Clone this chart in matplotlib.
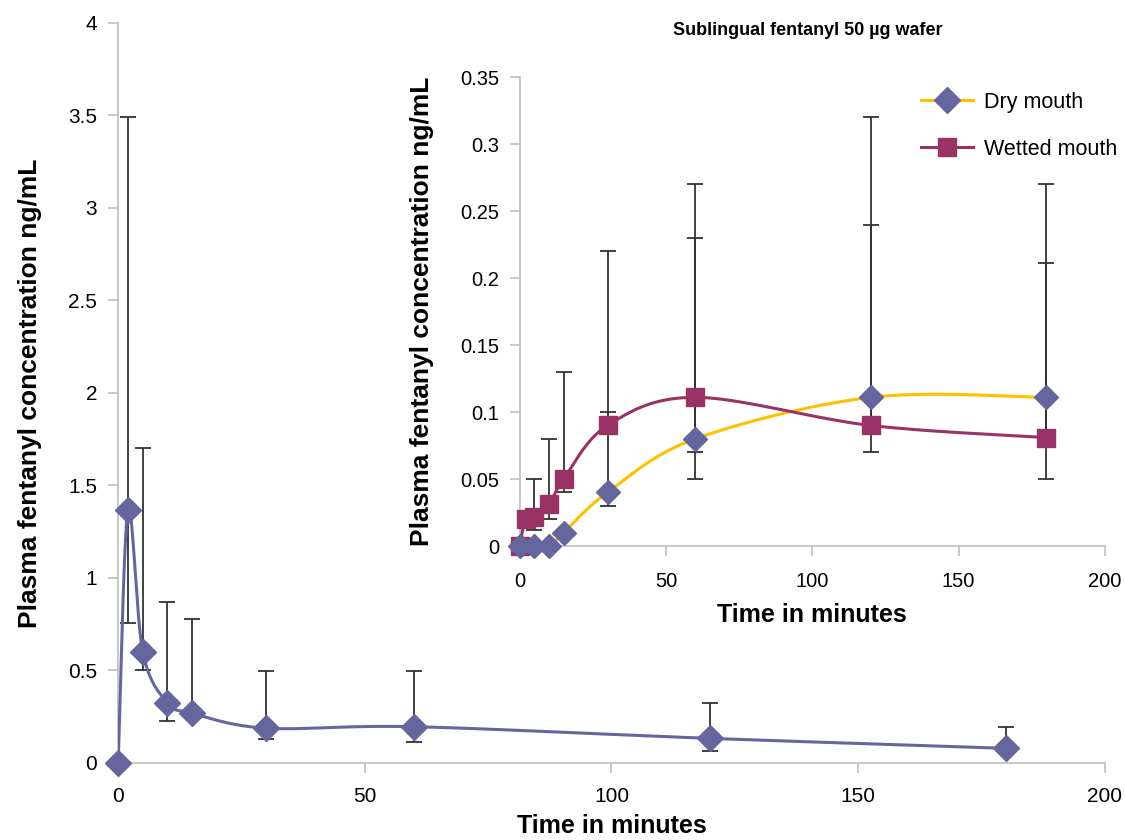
"""
Plasma fentanyl concentration after sublingual wafer, with inset for 50 ug dose.
"""

import numpy as np
import matplotlib
matplotlib.use("Agg")
import matplotlib.pyplot as plt
from matplotlib.ticker import FuncFormatter

plt.rcParams['font.family'] = ['Liberation Sans', 'DejaVu Sans']

# main chart data
main_time = [0, 2, 5, 10, 15, 30, 60, 120, 180]
main_conc = [0, 1.37, 0.60, 0.326, 0.269, 0.188, 0.196, 0.133, 0.079]
main_upper = [0, 3.49, 1.70, 0.872, 0.777, 0.495, 0.495, 0.322, 0.195]
main_lower = [0, 0.755, 0.503, 0.229, 0.25, 0.128, 0.112, 0.067, 0.079]

# inset data - dry mouth
dry_time = [0, 5, 10, 15, 30, 60, 120, 180]
dry_conc = [0, 0, 0, 0.01, 0.04, 0.08, 0.111, 0.111]
dry_upper = [0, 0, 0, 0.01, 0.10, 0.23, 0.32, 0.27]
dry_lower = [0, 0, 0, 0.01, 0.03, 0.05, 0.07, 0.05]

# inset data - wetted mouth
wet_time = [0, 2, 5, 10, 15, 30, 60, 120, 180]
wet_conc = [0, 0.02, 0.022, 0.031, 0.05, 0.09, 0.111, 0.09, 0.081]
wet_upper = [0, 0.02, 0.05, 0.08, 0.13, 0.22, 0.27, 0.24, 0.211]
wet_lower = [0, 0.02, 0.012, 0.02, 0.04, 0.09, 0.07, 0.09, 0.081]

BLUE = '#66669E'
GOLD = '#FFC000'
MAROON = '#993366'
GREY = '#BFBFBF'
ERR = '#333333'


def smooth(x, y, sx, sy, n=40):
    # Excel-like smoothed line (bezier through the points), done in pixel space
    P = np.column_stack([np.asarray(x, float) * sx, np.asarray(y, float) * sy])
    out = []
    t = np.linspace(0, 1, n)[:, None]
    for i in range(len(P) - 1):
        p0 = P[max(i - 1, 0)]
        p1 = P[i]
        p2 = P[i + 1]
        p3 = P[min(i + 2, len(P) - 1)]
        c1 = p1 + (p2 - p0) / 6
        c2 = p2 - (p3 - p1) / 6
        seg = (1 - t)**3 * p1 + 3 * (1 - t)**2 * t * c1 + 3 * (1 - t) * t**2 * c2 + t**3 * p2
        out.append(seg)
    out = np.vstack(out)
    return out[:, 0] / sx, out[:, 1] / sy


def style_axes(ax, size):
    for s in ['top', 'right']:
        ax.spines[s].set_visible(False)
    for s in ['left', 'bottom']:
        ax.spines[s].set_color(GREY)
        ax.spines[s].set_linewidth(1.2)
    ax.tick_params(colors=GREY, labelcolor='black', width=1.2, length=7, labelsize=size)
    ax.yaxis.set_major_formatter(FuncFormatter(lambda v, p: '%g' % round(v, 3)))


def yerr(vals, lower, upper):
    lo = [max(v - l, 0) for v, l in zip(vals, lower)]
    hi = [max(u - v, 0) for v, u in zip(vals, upper)]
    return [lo, hi]


fig = plt.figure(figsize=(11.25, 8.4), dpi=100)

# main axes
ax = fig.add_axes([0.105, 0.0917, 0.877, 0.881])
style_axes(ax, 15)
ax.set_xlim(0, 200)
ax.set_ylim(0, 4)
ax.set_xticks([0, 50, 100, 150, 200])
ax.set_yticks(np.arange(0, 4.01, 0.5))
ax.tick_params(axis='y', pad=8)
ax.tick_params(axis='x', pad=10)

ax.errorbar(main_time, main_conc, yerr=yerr(main_conc, main_lower, main_upper),
            fmt='none', ecolor=ERR, elinewidth=1.3, capsize=6, capthick=1.3, zorder=2)
sx, sy = smooth(main_time, main_conc, 987 / 200, 740 / 4)
ax.plot(sx, sy, color=BLUE, lw=2.2, zorder=3)
ax.plot(main_time, main_conc, 'D', color=BLUE, markersize=13, zorder=4, clip_on=False)
ax.set_xlabel('Time in minutes', fontsize=18, fontweight='bold', va='center')
ax.xaxis.set_label_coords(0.5, -0.085)
ax.set_ylabel('Plasma fentanyl concentration ng/mL', fontsize=19, fontweight='bold', va='center')
ax.yaxis.set_label_coords(-0.089, 0.5)

# inset axes
ins = fig.add_axes([0.462, 0.35, 0.52, 0.558])
style_axes(ins, 14.5)
ins.patch.set_alpha(0)
ins.set_xlim(0, 200)
ins.set_ylim(0, 0.35)
ins.set_xticks([0, 50, 100, 150, 200])
ins.set_yticks(np.arange(0, 0.351, 0.05))
ins.tick_params(axis='y', pad=8)
ins.tick_params(axis='x', pad=12)

ins.errorbar(dry_time, dry_conc, yerr=yerr(dry_conc, dry_lower, dry_upper),
             fmt='none', ecolor=ERR, elinewidth=1.3, capsize=6, capthick=1.3, zorder=2)
ins.errorbar(wet_time, wet_conc, yerr=yerr(wet_conc, wet_lower, wet_upper),
             fmt='none', ecolor=ERR, elinewidth=1.3, capsize=6, capthick=1.3, zorder=2)

dx, dy = smooth(dry_time, dry_conc, 585 / 200, 469 / 0.35)
wx, wy = smooth(wet_time, wet_conc, 585 / 200, 469 / 0.35)
ins.plot(dx, dy, color=GOLD, lw=2.2, zorder=3)
ins.plot(wx, wy, color=MAROON, lw=2.2, zorder=3)
ins.plot(wet_time, wet_conc, 's', color=MAROON, markersize=13, zorder=4, clip_on=False)
ins.plot(dry_time, dry_conc, 'D', color=BLUE, markersize=12, zorder=5, clip_on=False)

h1, = ins.plot([], [], color=GOLD, lw=2.2, marker='D', markersize=13,
               markerfacecolor=BLUE, markeredgecolor=BLUE)
h2, = ins.plot([], [], color=MAROON, lw=2.2, marker='s', markersize=13)
ins.legend([h1, h2], ['Dry mouth', 'Wetted mouth'], loc='upper right',
           bbox_to_anchor=(1.054, 1.01), frameon=False, fontsize=15.5,
           handlelength=2.4, handletextpad=0.5, labelspacing=1.2)

ins.set_xlabel('Time in minutes', fontsize=18, fontweight='bold', va='center')
ins.xaxis.set_label_coords(0.5, -0.147)
ins.set_ylabel('Plasma fentanyl concentration ng/mL', fontsize=19, fontweight='bold', va='center')
ins.yaxis.set_label_coords(-0.1675, 0.5)
fig.text(0.718, 0.964, 'Sublingual fentanyl 50 \u00b5g wafer', fontsize=13,
         fontweight='bold', ha='center', va='center')

fig.savefig('out.png', dpi=100)
